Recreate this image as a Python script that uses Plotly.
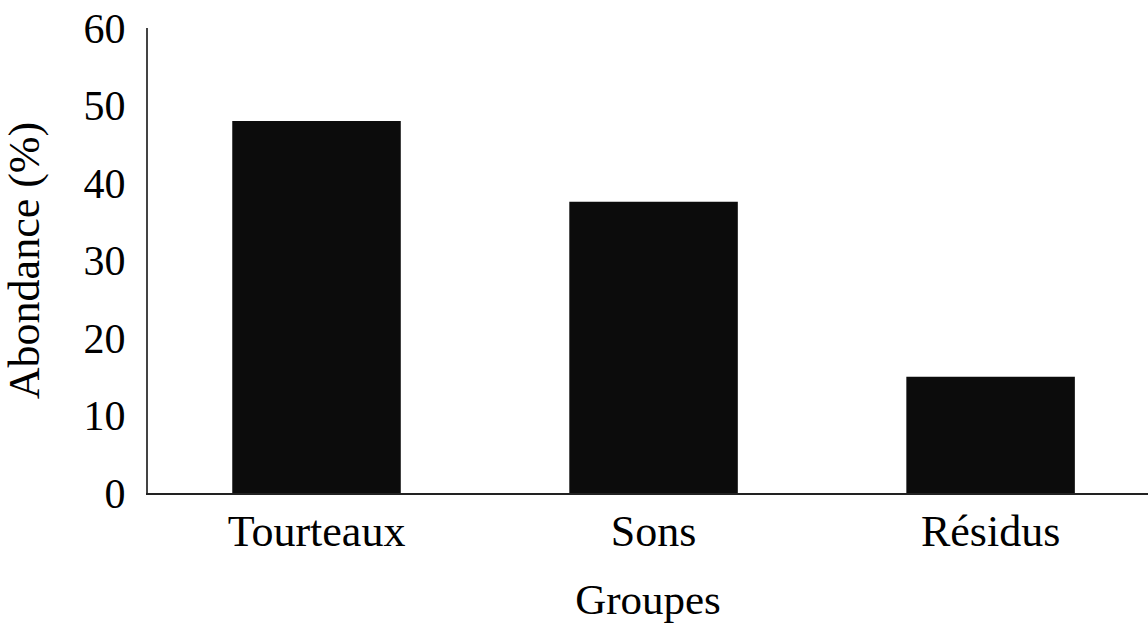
import plotly.graph_objects as go

groupes = ["Tourteaux", "Sons", "Résidus"]
abondance = [48.0, 37.6, 15.0]
y_ticks = [0, 10, 20, 30, 40, 50, 60]

fig = go.Figure(
    go.Bar(
        x=groupes,
        y=abondance,
        width=0.5,
        marker={"color": "#0c0c0c", "line": {"width": 0}},
    )
)

font = "Liberation Serif, Times New Roman, serif"

fig.update_layout(
    width=1148,
    height=623,
    margin={"l": 148, "r": 0, "t": 28, "b": 130},
    plot_bgcolor="white",
    paper_bgcolor="white",
    font={"family": font, "size": 42, "color": "black"},
    showlegend=False,
)

fig.update_xaxes(
    range=[-0.5, 2.467],
    automargin=False,
    showline=True,
    linecolor="#222",
    linewidth=2,
    showgrid=False,
    ticks="",
    ticklabelstandoff=-2,
    tickfont={"size": 44},
    title={"text": "Groupes", "font": {"size": 43}, "standoff": 44},
)

fig.update_yaxes(
    range=[0, 60.02],
    automargin=False,
    tickvals=y_ticks,
    showline=True,
    linecolor="#444",
    linewidth=2,
    showgrid=False,
    zeroline=False,
    ticks="",
    ticklabelstandoff=12,
    ticklabeloverflow="allow",
    tickfont={"size": 42},
    title={"text": "Abondance (%)", "font": {"size": 44}, "standoff": 32},
)

# drop the default 8px page margin so the figure sits at the window corner
fig.write_html(
    "out.html",
    config={"displayModeBar": False},
    post_script="document.body.style.margin = '0';",
)
